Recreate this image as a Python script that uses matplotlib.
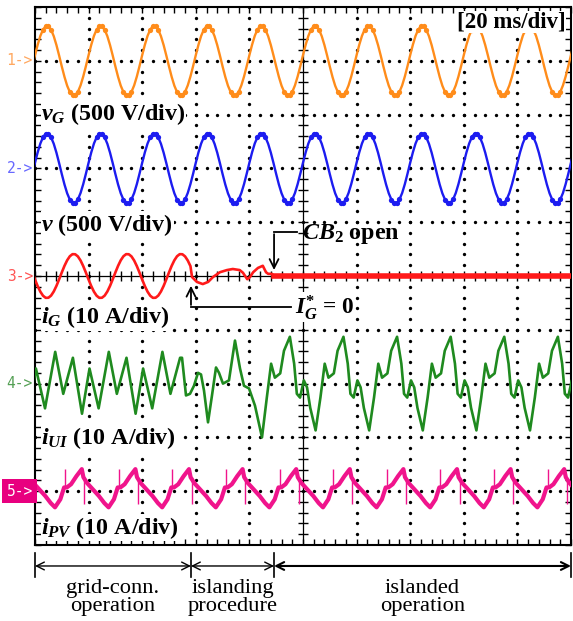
import numpy as np
import matplotlib
matplotlib.use("Agg")
import matplotlib.pyplot as plt

# ---------------- data (time in divisions: 1 div = 20 ms; amplitudes in divisions) ----------------
T_ISLAND_CMD = 2.91     # I_G* = 0 command
T_CB_OPEN = 4.46        # CB2 opens
T_END = 10.0

ch_offsets = [4.0, 2.0, 0.0, -2.0, -4.0]

# one 50 Hz cycle, sampled every 0.05 div
sine_phase = [0.00, 0.05, 0.10, 0.15, 0.20, 0.25, 0.30, 0.35, 0.40, 0.45,
              0.50, 0.55, 0.60, 0.65, 0.70, 0.75, 0.80, 0.85, 0.90, 0.95]
vG_cycle = [0.106, 0.299, 0.463, 0.581, 0.643, 0.641, 0.577, 0.457, 0.292, 0.098,
            -0.106, -0.299, -0.463, -0.581, -0.643, -0.641, -0.577, -0.457, -0.292, -0.098]
v_cycle = [0.106, 0.299, 0.463, 0.581, 0.643, 0.641, 0.577, 0.457, 0.292, 0.098,
           -0.106, -0.299, -0.463, -0.581, -0.643, -0.641, -0.577, -0.457, -0.292, -0.098]
iG_grid_cycle = [-0.067, -0.189, -0.292, -0.367, -0.406, -0.404, -0.364, -0.288, -0.184, -0.062,
                 0.067, 0.189, 0.292, 0.367, 0.406, 0.404, 0.364, 0.288, 0.184, 0.062]

# i_G during islanding procedure
iG_isl_t = [2.93, 3.02, 3.13, 3.23, 3.32, 3.45, 3.58, 3.69, 3.82, 3.88,
            3.96, 4.01, 4.07, 4.16, 4.25, 4.31, 4.35, 4.42, 4.46]
iG_isl_v = [-0.02, -0.11, -0.15, -0.11, -0.02, 0.07, 0.11, 0.13, 0.11, 0.06,
            -0.06, -0.02, 0.07, 0.15, 0.19, 0.07, 0.04, 0.04, 0.0]

# i_UI grid-connected cycle (origin = trough)
iUI_grid_phase = [0.00, 0.19, 0.34, 0.52, 0.69, 0.83]
iUI_grid_vals = [-0.46, 0.59, -0.19, 0.48, -0.56, 0.28]
IUI_GRID_ORIGIN = 0.187
# i_UI islanding procedure
iUI_isl_t = [2.743, 2.817, 2.892, 2.966, 3.041, 3.097, 3.153, 3.228, 3.302, 3.377,
             3.433, 3.507, 3.619, 3.731, 3.825, 3.899, 3.993, 4.104, 4.235]
iUI_isl_v = [0.48, -0.22, -0.19, -0.04, 0.20, 0.17, -0.13, -0.72, -0.22, 0.30,
             0.20, 0.0, 0.06, 0.80, 0.28, -0.04, -0.09, -0.41, -1.00]
# i_UI islanded cycle (origin = trough)
iUI_islanded_phase = [0.00, 0.09, 0.17, 0.24, 0.34, 0.41, 0.52, 0.60, 0.65, 0.71, 0.78, 0.84, 0.90]
iUI_islanded_vals = [-0.87, -0.26, 0.37, 0.11, 0.19, 0.61, 0.87, 0.37, -0.19, -0.26, 0.06, -0.07, -0.45]
IUI_ISLANDED_ORIGIN = 4.235

# i_PV cycle (origin = trough) and its narrow switching spikes
iPV_phase = [0.00, 0.10, 0.17, 0.22, 0.30, 0.40, 0.50, 0.53, 0.60, 0.70, 0.82, 0.92]
iPV_vals = [-0.30, -0.15, 0.07, 0.07, 0.13, 0.28, 0.41, 0.26, 0.15, 0.04, -0.09, -0.22]
iPV_spike_phase = [0.19, 0.55]
iPV_spike_base = [0.07, 0.22]
iPV_spike_tip = [0.41, -0.24]
IPV_ORIGIN = 0.373

ch_names = [r"$v_G$ (500 V/div)", r"$v$ (500 V/div)", r"$i_G$ (10 A/div)",
            r"$i_{UI}$ (10 A/div)", r"$i_{PV}$ (10 A/div)"]
ch_label_y = [3.01, 0.95, -0.76, -3.01, -4.68]
ch_colors = ["#ff8c1a", "#1c1cf0", "#ff1a1a", "#1f8a1f", "#f0148c"]
marker_colors = ["#ffa860", "#6868ff", "#ff5555", "#55a055", "#e8007f"]

# ---------------- helpers ----------------
def tile(phase, vals, origin, t0, t1):
    phase = np.asarray(phase, float)
    vals = np.asarray(vals, float)
    k0 = int(np.floor(t0 - origin)) - 1
    k1 = int(np.ceil(t1 - origin)) + 1
    ts = np.concatenate([origin + k + phase for k in range(k0, k1)])
    vs = np.tile(vals, k1 - k0)
    m = (ts >= t0) & (ts <= t1)
    return ts[m], vs[m]

plt.rcParams['mathtext.fontset'] = 'custom'
plt.rcParams['mathtext.it'] = 'Liberation Serif:italic:bold'
plt.rcParams['mathtext.rm'] = 'Liberation Serif:bold'
plt.rcParams['mathtext.bf'] = 'Liberation Serif:bold'

W, H = 573, 621
fig = plt.figure(figsize=(W / 100, H / 100), dpi=100)
L, R, Tp, B = 35, 571, 7, 545
ax = fig.add_axes([L / W, (H - B) / H, (R - L) / W, (B - Tp) / H])
ax.set_xlim(0, 10)
ax.set_ylim(-5, 5)
for s in ax.spines.values():
    s.set_linewidth(1.5)
ax.set_xticks(np.arange(0, 10.01, 1))
ax.set_xticks(np.arange(0, 10.01, 0.2), minor=True)
ax.set_yticks(np.arange(-5, 5.01, 1))
ax.set_yticks(np.arange(-5, 5.01, 0.2), minor=True)
ax.tick_params(which='both', direction='in', length=4, width=1, top=True, right=True,
               labelbottom=False, labelleft=False)

# dotted graticule
fine = np.arange(-25, 26) * 0.2
for i in [1, 2, 3, 4, 6, 7, 8, 9]:
    ax.plot(np.full_like(fine, i), fine, 'o', color='k', ms=2.4, mew=0, zorder=1)
fine_x = np.arange(0, 51) * 0.2
for j in [-4, -3, -2, -1, 1, 2, 3, 4]:
    ax.plot(fine_x, np.full_like(fine_x, j), 'o', color='k', ms=2.4, mew=0, zorder=1)
# centre crosshair
ax.axvline(5, color='k', lw=0.9, zorder=1)
ax.axhline(0, color='k', lw=0.9, zorder=1)
ax.plot(np.full_like(fine, 5), fine, '_', color='k', ms=7, mew=1, zorder=1)
ax.plot(fine_x, np.zeros_like(fine_x), '|', color='k', ms=7, mew=1, zorder=1)

# ---------------- traces ----------------
# ch1 v_G
t, v = tile(sine_phase, vG_cycle, 0.0, -0.2, 10.2)
ax.plot(t, v + ch_offsets[0], color=ch_colors[0], lw=1.7, zorder=3)
m = np.abs(v) > 0.55
ax.plot(t[m], v[m] + ch_offsets[0], 'o', color=ch_colors[0], ms=3.8, mew=0, zorder=3)
# ch2 v
t, v = tile(sine_phase, v_cycle, 0.0, -0.2, 10.2)
ax.plot(t, v + ch_offsets[1], color=ch_colors[1], lw=1.7, zorder=3)
m = np.abs(v) > 0.55
ax.plot(t[m], v[m] + ch_offsets[1], 'o', color=ch_colors[1], ms=3.8, mew=0, zorder=3)
# ch3 i_G
tg, vg = tile(sine_phase, iG_grid_cycle, 0.0, -0.2, 2.90)
t3 = np.concatenate([tg, iG_isl_t])
v3 = np.concatenate([vg, iG_isl_v])
ax.plot(t3, v3 + ch_offsets[2], color=ch_colors[2], lw=1.9, zorder=3)
ax.plot([T_CB_OPEN, T_END + 0.2], [ch_offsets[2], ch_offsets[2]], color=ch_colors[2], lw=4, zorder=3)
# ch4 i_UI
ta, va = tile(iUI_grid_phase, iUI_grid_vals, IUI_GRID_ORIGIN, -0.5, 2.72)
tb, vb = tile(iUI_islanded_phase, iUI_islanded_vals, IUI_ISLANDED_ORIGIN, 4.24, 10.5)
t4 = np.concatenate([ta, iUI_isl_t, tb])
v4 = np.concatenate([va, iUI_isl_v, vb])
ax.plot(t4, v4 + ch_offsets[3], color=ch_colors[3], lw=1.9, zorder=3)
# ch5 i_PV
t5, v5 = tile(iPV_phase, iPV_vals, IPV_ORIGIN, -0.5, 10.5)
ax.plot(t5, v5 + ch_offsets[4], color=ch_colors[4], lw=3.0, zorder=3)
ts_, tb_ = tile(iPV_spike_phase, iPV_spike_base, IPV_ORIGIN, 0.0, 10.0)
_, tt_ = tile(iPV_spike_phase, iPV_spike_tip, IPV_ORIGIN, 0.0, 10.0)
ax.vlines(ts_, tb_ + ch_offsets[4], tt_ + ch_offsets[4], color=ch_colors[4], lw=1.0, zorder=3)

# ---------------- labels ----------------
for name, yl in zip(ch_names, ch_label_y):
    ax.text(0.12, yl, name, fontsize=17.3, fontfamily='Liberation Serif', fontweight='bold',
            ha='left', va='center', zorder=5,
            bbox=dict(facecolor='white', edgecolor='none', pad=0.5))
ax.text(9.9, 4.72, "[20 ms/div]", fontsize=16.5, fontfamily='Liberation Serif', fontweight='bold',
        ha='right', va='center', zorder=5, bbox=dict(facecolor='white', edgecolor='none', pad=0.5))

# channel markers
for k in range(5):
    if k < 4:
        ax.text(-0.04, ch_offsets[k], f"{k + 1}->", fontsize=10.5, fontfamily='DejaVu Sans Mono',
                color=marker_colors[k], ha='right', va='center', clip_on=False)
    else:
        ax.text(-0.04, ch_offsets[k], f"{k + 1}->", fontsize=10.5, fontfamily='DejaVu Sans Mono',
                color='white', ha='right', va='center', clip_on=False,
                bbox=dict(facecolor=marker_colors[k], edgecolor='none', pad=3))

# CB2 open annotation
ax.text(4.98, 0.78, r"$CB_2$ open", fontsize=17.3, fontfamily='Liberation Serif', fontweight='bold',
        ha='left', va='center', zorder=5)
ax.plot([4.89, T_CB_OPEN], [0.82, 0.82], color='k', lw=1.3, zorder=4)
ax.annotate("", xy=(T_CB_OPEN, 0.06), xytext=(T_CB_OPEN, 0.83),
            arrowprops=dict(arrowstyle='->', color='k', lw=1.3, mutation_scale=16), zorder=4)
# I_G* = 0 annotation
ax.text(4.86, -0.58, r"$I_G^{*}$ = 0", fontsize=16.8, fontfamily='Liberation Serif', fontweight='bold',
        ha='left', va='center', zorder=5,
        bbox=dict(facecolor='white', edgecolor='none', pad=0.3))
ax.plot([4.78, T_ISLAND_CMD], [-0.58, -0.58], color='k', lw=1.3, zorder=4)
ax.annotate("", xy=(T_ISLAND_CMD, -0.13), xytext=(T_ISLAND_CMD, -0.59),
            arrowprops=dict(arrowstyle='->', color='k', lw=1.3, mutation_scale=16), zorder=4)

# ---------------- operating-mode bar below the screen ----------------
bounds = [0.0, T_ISLAND_CMD, T_CB_OPEN, T_END]
for xb in bounds:
    ax.plot([xb, xb], [-5.15, -5.59], color='k', lw=1.2, clip_on=False)
modes = ["grid-conn.\noperation", "islanding\nprocedure", "islanded\noperation"]
for i, txt in enumerate(modes):
    a, b = bounds[i], bounds[i + 1]
    ax.annotate("", xy=(a, -5.39), xytext=(b, -5.39), annotation_clip=False,
                arrowprops=dict(arrowstyle='<->', color='k', lw=1.0 if i < 2 else 1.5,
                                mutation_scale=14, shrinkA=0, shrinkB=0))
    ax.text((a + b) / 2, -5.97, txt, fontsize=16.2, fontfamily='Liberation Serif',
            ha='center', va='center', linespacing=0.92, clip_on=False)

fig.savefig("out.png", dpi=100)
